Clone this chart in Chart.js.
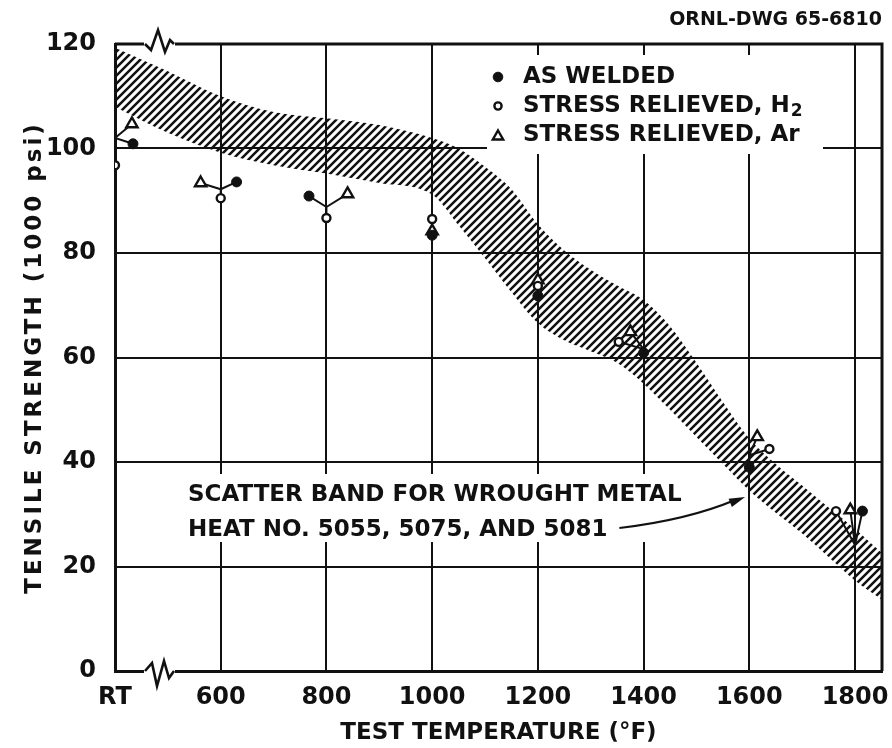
<!DOCTYPE html>
<html>
<head>
<meta charset="utf-8">
<script src="https://cdn.jsdelivr.net/npm/chart.js@4.4.1/dist/chart.umd.min.js"></script>
<style>
  html, body { margin: 0; padding: 0; background: #fff; }
  #wrap { width: 892px; height: 748px; position: relative; }
</style>
</head>
<body>
<div id="wrap"><canvas id="c" width="892" height="748"></canvas></div>
<script>
// Test temperatures (°F); room temperature sits at the left end of the axis
const testLabels = ['RT', '600', '800', '1000', '1200', '1400', '1600', '1800'];
const testTempF  = [400, 600, 800, 1000, 1200, 1400, 1600, 1800];

// Tensile strength (1000 psi)
const asWelded   = [100.9, 93.6, 90.9, 83.4, 71.8, 60.9, 39.0, 30.6];
const relievedH2 = [96.8, 90.5, 86.7, 86.5, 73.7, 63.0, 42.5, 30.6];
const relievedAr = [104.7, 93.4, 91.3, 84.2, 74.8, 64.9, 44.8, 30.8];

// Point where the leaders of a crowded group meet (1000 psi); null = no leaders
const leaderHub = [102.0, 92.2, 88.8, null, null, 61.6, 41.3, 24.1];

// Sideways spread of crowded symbols about their test temperature (°F)
const spreadAW = [34, 30, -33, 0, 0, 0, 0, 14];
const spreadH2 = [0, 0, 0, 0, 0, -47, 38, -36];
const spreadAr = [32, -38, 40, 0, 0, -25, 15, -9];

// Scatter band for wrought metal, heats 5055, 5075 and 5081
const bandTempF = [400, 500, 600, 700, 800, 900, 1000, 1050, 1100, 1150, 1200, 1250,
                   1300, 1350, 1400, 1450, 1500, 1550, 1600, 1650, 1700, 1750, 1800, 1851];
const bandUpper = [119.3, 114.8, 110.0, 107.0, 105.8, 104.5, 102.0, 100.0, 96.5, 92.2, 85.5, 80.5,
                   76.8, 73.8, 71.0, 66.0, 59.0, 51.5, 44.5, 39.6, 35.5, 31.3, 27.2, 22.6];
const bandLower = [108.0, 103.0, 99.2, 96.8, 95.2, 93.4, 91.2, 85.3, 79.0, 72.5, 66.6, 63.3,
                   61.2, 59.0, 55.0, 50.0, 44.8, 39.6, 34.5, 30.3, 26.3, 21.8, 17.3, 13.6];

const yTicks = [0, 20, 40, 60, 80, 100, 120];

const INK = '#111';
const FONT = "'DejaVu Sans', sans-serif";

// Diagonal hatching for the scatter band
function hatchPattern() {
  const n = 8;
  const c = document.createElement('canvas');
  c.width = n; c.height = n;
  const g = c.getContext('2d');
  g.strokeStyle = INK;
  g.lineWidth = 2.5;
  g.beginPath();
  g.moveTo(-1, n + 1); g.lineTo(n + 1, -1);
  g.moveTo(-1, 1); g.lineTo(1, -1);
  g.moveTo(n - 1, n + 1); g.lineTo(n + 1, n - 1);
  g.stroke();
  return g.createPattern(c, 'repeat');
}

const points = (vals, spread) => vals.map((v, i) => ({ x: testTempF[i] + spread[i], y: v }));

const leaderData = [];
leaderHub.forEach((h, i) => {
  if (h == null) return;
  [[asWelded, spreadAW], [relievedH2, spreadH2], [relievedAr, spreadAr]].forEach(([vals, sp]) => {
    leaderData.push({ x: testTempF[i], y: h }, { x: testTempF[i] + sp[i], y: vals[i] }, { x: testTempF[i], y: null });
  });
});

function drawSymbol(ctx, style, x, y, r, filled) {
  ctx.beginPath();
  if (style === 'triangle') {
    ctx.moveTo(x, y - r);
    ctx.lineTo(x + r * Math.sin(2 * Math.PI / 3), y - r * Math.cos(2 * Math.PI / 3));
    ctx.lineTo(x + r * Math.sin(4 * Math.PI / 3), y - r * Math.cos(4 * Math.PI / 3));
    ctx.closePath();
  } else {
    ctx.arc(x, y, r, 0, Math.PI * 2);
  }
  ctx.fillStyle = filled ? INK : '#fff';
  ctx.fill();
  ctx.lineWidth = filled ? 1 : 2.4;
  ctx.strokeStyle = INK;
  ctx.stroke();
}

// Axis breaks, legend, and the scatter-band note
const overlays = {
  id: 'overlays',
  beforeDraw(chart) {
    // wider letter spacing for the vertical axis title
    const ys = chart.scales.y;
    if (ys && !ys._spaced) {
      const orig = ys.drawTitle.bind(ys);
      ys.drawTitle = function () {
        const ctx = chart.ctx;
        ctx.save();
        ctx.letterSpacing = '3px';
        orig();
        ctx.restore();
      };
      ys._spaced = true;
    }
  },
  beforeDatasetsDraw(chart) {
    const { ctx, chartArea: a } = chart;
    ctx.save();
    ctx.fillStyle = '#fff';
    ctx.fillRect(a.left + 372, a.top + 11, 336, 99);   // legend panel
    ctx.fillRect(a.left + 68, a.top + 430, 507, 68);   // note panel
    ctx.strokeStyle = INK;
    ctx.lineWidth = 3;
    ctx.beginPath();
    ctx.moveTo(a.left, a.top);
    ctx.lineTo(a.right, a.top);
    ctx.lineTo(a.right, a.bottom);
    ctx.stroke();
    ctx.restore();
  },
  afterDatasetsDraw(chart) {
    const { ctx, chartArea: a, scales: { x: xs, y: ys } } = chart;
    ctx.save();

    // axis breaks on the top and bottom edges
    const bx = a.left + 30;
    const topShape = [[0, 0], [6, 6], [13, -14], [20, 8], [25, -4], [29, 0]];
    const botShape = [[0, 0], [7, -8], [12, 15], [19, -10], [24, 7], [29, 0]];
    [[a.top, topShape], [a.bottom, botShape]].forEach(([yy, shape]) => {
      ctx.strokeStyle = '#fff';
      ctx.lineWidth = 6;
      ctx.beginPath();
      ctx.moveTo(bx - 1, yy); ctx.lineTo(bx + 30, yy);
      ctx.stroke();
      ctx.strokeStyle = INK;
      ctx.lineWidth = 2.6;
      ctx.lineJoin = 'miter';
      ctx.beginPath();
      shape.forEach(([dx, dy], k) => k ? ctx.lineTo(bx + dx, yy + dy) : ctx.moveTo(bx + dx, yy + dy));
      ctx.stroke();
    });

    // legend
    ctx.font = `bold 23px ${FONT}`;
    ctx.textBaseline = 'middle';
    ctx.textAlign = 'left';
    const sx = a.left + 383, tx = a.left + 408;
    const rows = [
      { y: a.top + 33, style: 'circle', r: 4.8, filled: true, text: 'AS WELDED', sub: '' },
      { y: a.top + 62, style: 'circle', r: 3.6, filled: false, text: 'STRESS RELIEVED, H', sub: '2' },
      { y: a.top + 91, style: 'triangle', r: 6, filled: false, text: 'STRESS RELIEVED, Ar', sub: '' }
    ];
    rows.forEach(r => {
      drawSymbol(ctx, r.style, sx, r.y + (r.style === 'triangle' ? 1.5 : 0), r.r, r.filled);
      ctx.fillStyle = INK;
      ctx.font = `bold 23px ${FONT}`;
      ctx.fillText(r.text, tx, r.y);
      if (r.sub) {
        const w = ctx.measureText(r.text).width;
        ctx.font = `bold 17px ${FONT}`;
        ctx.fillText(r.sub, tx + w + 1, r.y + 6);
      }
    });

    // note on the scatter band with its arrow
    ctx.font = `bold 23px ${FONT}`;
    ctx.fillStyle = INK;
    const nx = a.left + 73;
    const l1 = 'SCATTER BAND FOR WROUGHT METAL';
    const l2 = 'HEAT NO. 5055, 5075, AND 5081';
    ctx.fillText(l1, nx, a.top + 451);
    ctx.fillText(l2, nx, a.top + 486);
    const x0 = nx + ctx.measureText(l2).width + 12, y0 = a.top + 484;
    const tipX = xs.getPixelForValue(1592), tipY = ys.getPixelForValue(33.3);
    const cx = x0 + 68, cy = y0 - 8;
    ctx.strokeStyle = INK;
    ctx.lineWidth = 2.2;
    ctx.beginPath();
    ctx.moveTo(x0, y0);
    ctx.quadraticCurveTo(cx, cy, tipX - 10, tipY + 3);
    ctx.stroke();
    const ang = Math.atan2(tipY - cy, tipX - cx);
    ctx.beginPath();
    ctx.moveTo(tipX, tipY);
    ctx.lineTo(tipX - 16 * Math.cos(ang) + 4.5 * Math.sin(ang), tipY - 16 * Math.sin(ang) - 4.5 * Math.cos(ang));
    ctx.lineTo(tipX - 16 * Math.cos(ang) - 4.5 * Math.sin(ang), tipY - 16 * Math.sin(ang) + 4.5 * Math.cos(ang));
    ctx.closePath();
    ctx.fill();

    ctx.restore();
  }
};

new Chart(document.getElementById('c'), {
  type: 'scatter',
  data: {
    datasets: [
      { label: 'AS WELDED', data: points(asWelded, spreadAW), pointStyle: 'circle', pointRadius: 5,
        backgroundColor: INK, borderColor: INK, borderWidth: 1, order: 0 },
      { label: 'STRESS RELIEVED, H2', data: points(relievedH2, spreadH2), pointStyle: 'circle', pointRadius: 4,
        backgroundColor: '#fff', borderColor: INK, borderWidth: 2.4, order: 0 },
      { label: 'STRESS RELIEVED, Ar', data: points(relievedAr, spreadAr), pointStyle: 'triangle', pointRadius: 6.5,
        backgroundColor: '#fff', borderColor: INK, borderWidth: 2.4, order: 0 },
      { label: 'leaders', type: 'line', data: leaderData, borderColor: INK, borderWidth: 2,
        pointRadius: 0, spanGaps: false, fill: false, order: 5 },
      { label: 'band upper', type: 'line', data: bandTempF.map((t, i) => ({ x: t, y: bandUpper[i] })),
        borderColor: 'transparent', borderWidth: 0, pointRadius: 0, cubicInterpolationMode: 'monotone',
        fill: '+1', backgroundColor: hatchPattern(), order: 10 },
      { label: 'band lower', type: 'line', data: bandTempF.map((t, i) => ({ x: t, y: bandLower[i] })),
        borderColor: 'transparent', borderWidth: 0, pointRadius: 0, cubicInterpolationMode: 'monotone',
        fill: false, order: 10 }
    ]
  },
  options: {
    responsive: false,
    animation: false,
    events: [],
    devicePixelRatio: 1,
    layout: { padding: { left: 0, right: 10, top: 0, bottom: 0 } },
    plugins: {
      legend: { display: false },
      tooltip: { enabled: false },
      title: {
        display: true, text: 'ORNL-DWG 65-6810', align: 'end', color: INK,
        font: { family: FONT, size: 19, weight: 'bold' },
        padding: { top: 9, bottom: 12.2 }
      }
    },
    scales: {
      x: {
        type: 'linear', min: 400, max: 1851,
        afterBuildTicks: s => { s.ticks = testTempF.map(v => ({ value: v })); },
        afterFit: s => { s.height = 77; s.paddingLeft = 0; s.paddingRight = 0; },
        grid: { color: INK, lineWidth: 2, drawTicks: false },
        border: { color: INK, width: 3 },
        ticks: {
          padding: 12, color: INK, maxRotation: 0, autoSkip: false,
          font: { family: FONT, size: 24, weight: 'bold' },
          callback: v => { const i = testTempF.indexOf(v); return i >= 0 ? testLabels[i] : ''; }
        },
        title: {
          display: true, text: 'TEST TEMPERATURE (°F)', color: INK,
          font: { family: FONT, size: 23, weight: 'bold' },
          padding: { top: 0, bottom: 1 }
        }
      },
      y: {
        type: 'linear', min: 0, max: 120,
        afterBuildTicks: s => { s.ticks = yTicks.map(v => ({ value: v })); },
        afterFit: s => { s.width = 115; s.paddingTop = 0; s.paddingBottom = 0; },
        grid: { color: INK, lineWidth: 2, drawTicks: false },
        border: { color: INK, width: 3 },
        ticks: { padding: 19, color: INK, font: { family: FONT, size: 24, weight: 'bold' } },
        title: {
          display: true, text: 'TENSILE STRENGTH (1000 psi)', color: INK,
          font: { family: FONT, size: 23, weight: 'bold' },
          padding: { top: 21, bottom: 0 }
        }
      }
    }
  },
  plugins: [overlays]
});
</script>
</body>
</html>
